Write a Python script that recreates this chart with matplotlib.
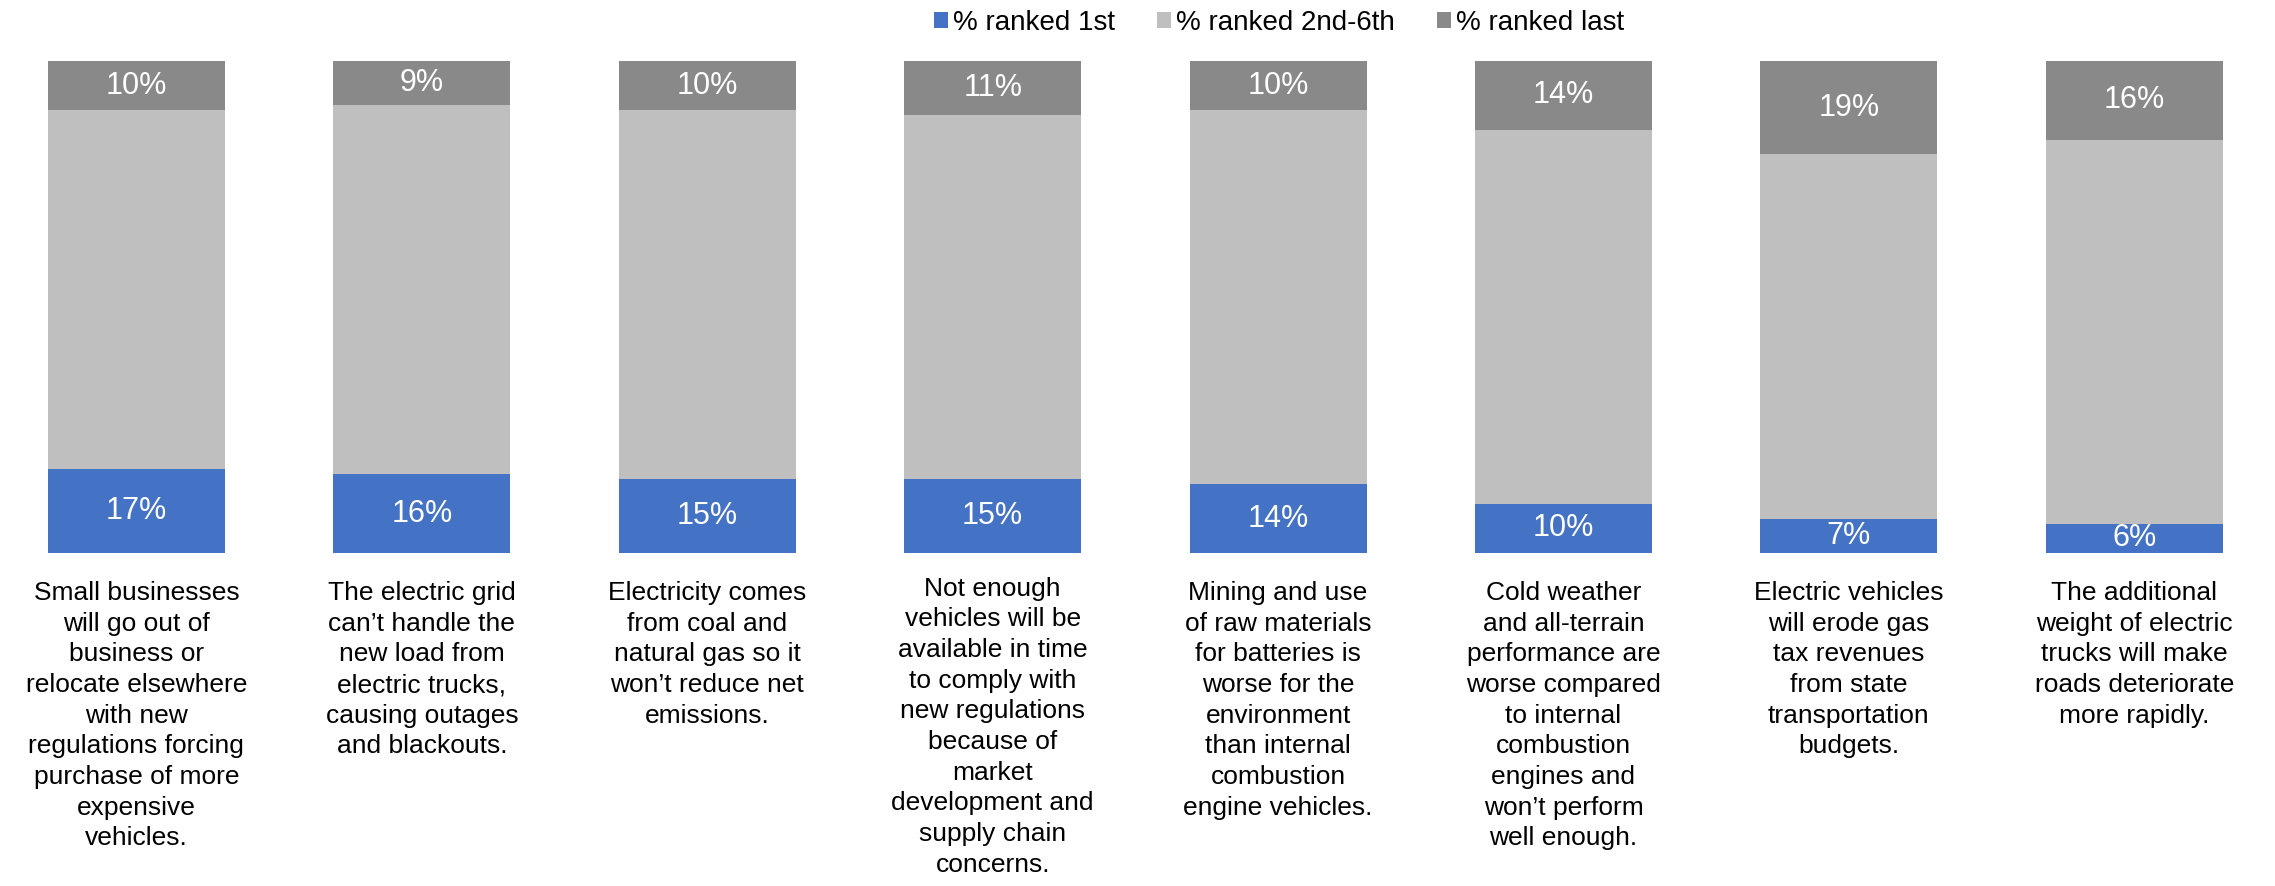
import matplotlib
matplotlib.use("Agg")
import matplotlib.pyplot as plt
import numpy as np

plt.rcParams['font.family'] = ['Liberation Sans', 'DejaVu Sans']

categories = [
    "Small businesses\nwill go out of\nbusiness or\nrelocate elsewhere\nwith new\nregulations forcing\npurchase of more\nexpensive\nvehicles.",
    "The electric grid\ncan\u2019t handle the\nnew load from\nelectric trucks,\ncausing outages\nand blackouts.",
    "Electricity comes\nfrom coal and\nnatural gas so it\nwon\u2019t reduce net\nemissions.",
    "Not enough\nvehicles will be\navailable in time\nto comply with\nnew regulations\nbecause of\nmarket\ndevelopment and\nsupply chain\nconcerns.",
    "Mining and use\nof raw materials\nfor batteries is\nworse for the\nenvironment\nthan internal\ncombustion\nengine vehicles.",
    "Cold weather\nand all-terrain\nperformance are\nworse compared\nto internal\ncombustion\nengines and\nwon\u2019t perform\nwell enough.",
    "Electric vehicles\nwill erode gas\ntax revenues\nfrom state\ntransportation\nbudgets.",
    "The additional\nweight of electric\ntrucks will make\nroads deteriorate\nmore rapidly.",
]
ranked_first = [17, 16, 15, 15, 14, 10, 7, 6]
ranked_last = [10, 9, 10, 11, 10, 14, 19, 16]
ranked_middle = [100 - f - l for f, l in zip(ranked_first, ranked_last)]

series_names = ["% ranked 1st", "% ranked 2nd-6th", "% ranked last"]
colors = ["#4472C4", "#BFBFBF", "#898989"]

fig = plt.figure(figsize=(22.75, 8.86), dpi=100)
ax = fig.add_axes([0, 0.3758, 1, 0.5554])

x = np.arange(len(categories))
width = 0.62
first = np.array(ranked_first)
middle = np.array(ranked_middle)
last = np.array(ranked_last)

b1 = ax.bar(x, first, width, color=colors[0], label=series_names[0])
b2 = ax.bar(x, middle, width, bottom=first, color=colors[1], label=series_names[1])
b3 = ax.bar(x, last, width, bottom=first + middle, color=colors[2], label=series_names[2])

for i in range(len(x)):
    ax.text(x[i], first[i] / 2, f"{first[i]}%", ha="center", va="center",
            color="white", fontsize=22)
    ax.text(x[i], first[i] + middle[i] + last[i] / 2, f"{last[i]}%", ha="center",
            va="center", color="white", fontsize=22)
    # the long fourth label sits a little higher
    y_top = -4.8 if i == 3 else -5.7
    ax.text(x[i], y_top, categories[i], ha="center", va="top", fontsize=19,
            color="black", linespacing=1.35)

ax.set_xlim(-0.478, 7.493)
ax.set_ylim(0, 100)
ax.axis("off")

fig.legend(handles=[b1, b2, b3], labels=series_names, loc="center",
           bbox_to_anchor=(0.5622, 0.974), ncol=3, frameon=False, fontsize=20,
           handlelength=0.5, handleheight=0.5, handletextpad=0.2,
           columnspacing=1.5)

fig.savefig("out.png", dpi=100)
